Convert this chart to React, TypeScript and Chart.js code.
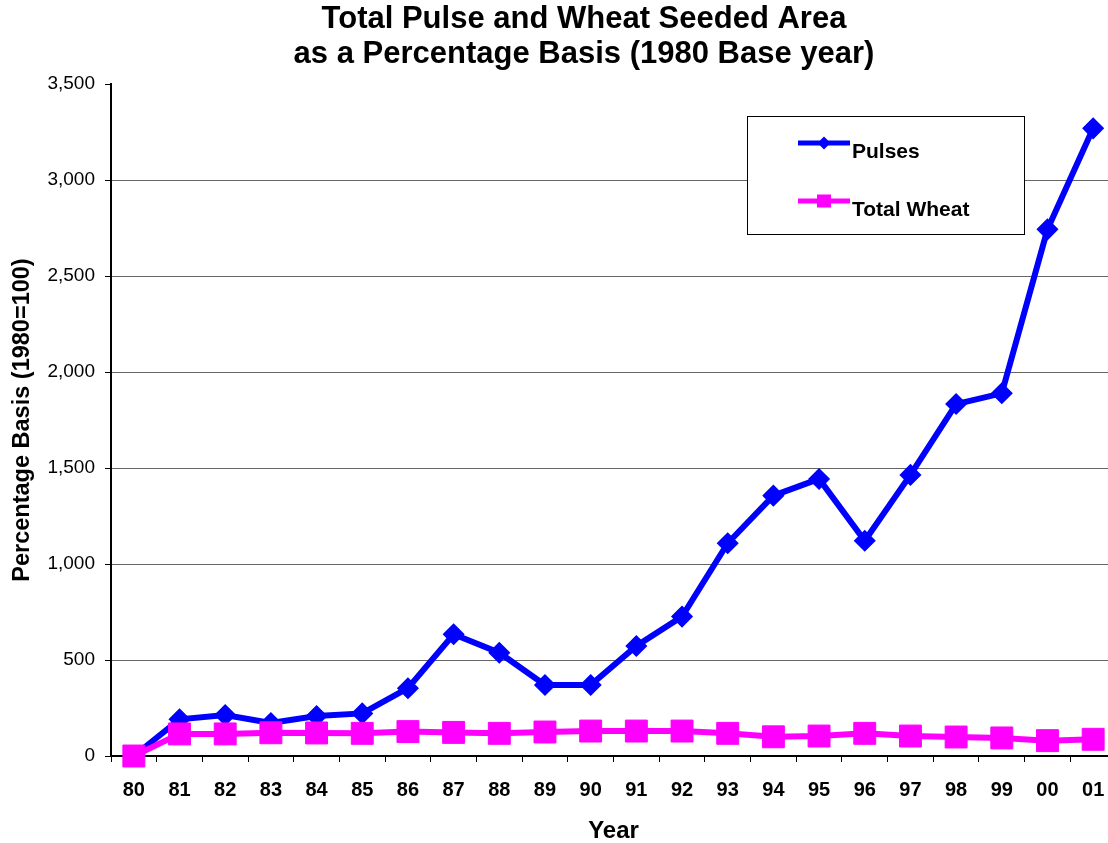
import React, { useEffect, useRef } from "react";
import { Chart, registerables } from "chart.js";

Chart.register(...registerables);

const categories = ["80", "81", "82", "83", "84", "85", "86", "87", "88", "89", "90", "91", "92", "93", "94", "95", "96", "97", "98", "99", "00", "01"];
const pulses = [0, 191, 213, 172, 208, 222, 353, 634, 538, 370, 370, 573, 726, 1108, 1356, 1443, 1121, 1464, 1833, 1889, 2743, 3269];
const totalWheat = [0, 115, 115, 121, 120, 118, 127, 123, 118, 125, 130, 130, 130, 118, 100, 104, 118, 104, 99, 94, 80, 87];
const seriesLabels = ["Pulses", "Total Wheat"];
const titleLines = ["Total Pulse and Wheat Seeded Area", "as a Percentage Basis (1980 Base year)"];
const yAxisTitle = "Percentage Basis (1980=100)";
const xAxisTitle = "Year";
const yMin = 0;
const yMax = 3500;
const yStep = 500;

const FONT = "'Liberation Sans', Arial, sans-serif";

const legendBoxPlugin = {
  id: "legendBox",
  afterDraw(chart: any, _args: any, opts: any) {
    const ctx = chart.ctx as CanvasRenderingContext2D;
    const { x, y, w, h, lineX1, lineX2, textX, rowY, textDy } = opts;
    ctx.save();
    ctx.fillStyle = "#ffffff";
    ctx.fillRect(x, y, w, h);
    ctx.strokeStyle = "#000000";
    ctx.lineWidth = 1;
    ctx.strokeRect(x + 0.5, y + 0.5, w, h);
    chart.data.datasets.forEach((ds: any, i: number) => {
      const ly = rowY[i];
      const color = ds.borderColor;
      ctx.strokeStyle = color;
      ctx.lineWidth = 5;
      ctx.beginPath();
      ctx.moveTo(lineX1, ly);
      ctx.lineTo(lineX2, ly);
      ctx.stroke();
      const cx = (lineX1 + lineX2) / 2;
      ctx.fillStyle = color;
      if (ds.pointStyle === "rectRot") {
        const r = 6.5;
        ctx.beginPath();
        ctx.moveTo(cx, ly - r);
        ctx.lineTo(cx + r, ly);
        ctx.lineTo(cx, ly + r);
        ctx.lineTo(cx - r, ly);
        ctx.closePath();
        ctx.fill();
      } else {
        ctx.fillRect(cx - 7, ly - 6.5, 14, 13);
      }
      ctx.fillStyle = "#000000";
      ctx.font = `bold 21px ${FONT}`;
      ctx.textBaseline = "alphabetic";
      ctx.textAlign = "left";
      ctx.fillText(ds.label, textX, ly + textDy);
    });
    ctx.restore();
  },
};

export default function App() {
  const canvasRef = useRef<HTMLCanvasElement | null>(null);

  useEffect(() => {
    document.body.style.margin = "0";
    document.body.style.overflow = "hidden";
    const canvas = canvasRef.current;
    if (!canvas) return;
    const chart = new Chart(canvas, {
      type: "line",
      data: {
        labels: categories,
        datasets: [
          {
            label: seriesLabels[0],
            data: pulses,
            borderColor: "#0000ff",
            backgroundColor: "#0000ff",
            borderWidth: 6,
            pointStyle: "rectRot",
            pointRadius: 10,
            pointBorderWidth: 1.5,
            pointBackgroundColor: "#0000ff",
            pointBorderColor: "#0000ff",
            tension: 0,
            order: 1,
            clip: false,
          },
          {
            label: seriesLabels[1],
            data: totalWheat,
            borderColor: "#ff00ff",
            backgroundColor: "#ff00ff",
            borderWidth: 6,
            pointStyle: "rect",
            pointRadius: 15.5,
            pointBorderWidth: 1,
            pointBackgroundColor: "#ff00ff",
            pointBorderColor: "#ff00ff",
            tension: 0,
            order: 0,
            clip: false,
          },
        ],
      },
      options: {
        responsive: false,
        animation: false,
        devicePixelRatio: 1,
        layout: { padding: { left: 0, right: 0, top: 0, bottom: 0 } },
        plugins: {
          legend: { display: false },
          tooltip: { enabled: false },
          title: {
            display: true,
            text: titleLines,
            color: "#000000",
            font: { family: FONT, size: 31, weight: "bold", lineHeight: "35px" },
            padding: { top: 2, bottom: 12 },
          },
          legendBox: {
            x: 747,
            y: 116,
            w: 277,
            h: 118,
            lineX1: 798,
            lineX2: 850,
            textX: 852,
            rowY: [143, 201],
            textDy: 15,
          },
        } as any,
        scales: {
          x: {
            type: "category",
            offset: true,
            grid: {
              display: true,
              drawOnChartArea: false,
              drawTicks: true,
              tickLength: 6,
              tickColor: "#000000",
              tickWidth: 1,
              offset: true,
            },
            border: { display: true, color: "#000000", width: 2 },
            ticks: {
              color: "#000000",
              font: { family: FONT, size: 20, weight: "bold" },
              padding: 16,
              maxRotation: 0,
              autoSkip: false,
            },
            title: {
              display: true,
              text: xAxisTitle,
              color: "#000000",
              font: { family: FONT, size: 24, weight: "bold" },
              padding: { top: 10, bottom: -3 },
            },
            afterFit: (s: any) => {
              s.height = 87;
            },
          },
          y: {
            min: yMin,
            max: yMax,
            position: "left",
            grid: {
              color: (c: any) => (c.tick && c.tick.value === yMax ? "rgba(0,0,0,0)" : "#666666"),
              lineWidth: 1,
              tickLength: 6,
              tickColor: "#000000",
              drawTicks: true,
            },
            border: { display: true, color: "#000000", width: 2 },
            ticks: {
              stepSize: yStep,
              color: "#000000",
              font: { family: FONT, size: 19 },
              padding: 10,
            },
            title: {
              display: true,
              text: yAxisTitle,
              color: "#000000",
              font: { family: FONT, size: 23.5, weight: "bold" },
              padding: { top: 8, bottom: 5 },
            },
            afterFit: (s: any) => {
              s.width = 111;
            },
          },
          yR: {
            position: "right",
            display: true,
            grid: { display: false, drawTicks: false },
            border: { display: false },
            ticks: { display: false },
            afterFit: (s: any) => {
              s.width = 52;
            },
          },
        },
      } as any,
      plugins: [legendBoxPlugin],
    });
    return () => chart.destroy();
  }, []);

  return (
    <div style={{ position: "absolute", left: 0, top: 0, width: 1168, height: 843 }}>
      <canvas ref={canvasRef} width={1168} height={843} style={{ display: "block" }} />
    </div>
  );
}
